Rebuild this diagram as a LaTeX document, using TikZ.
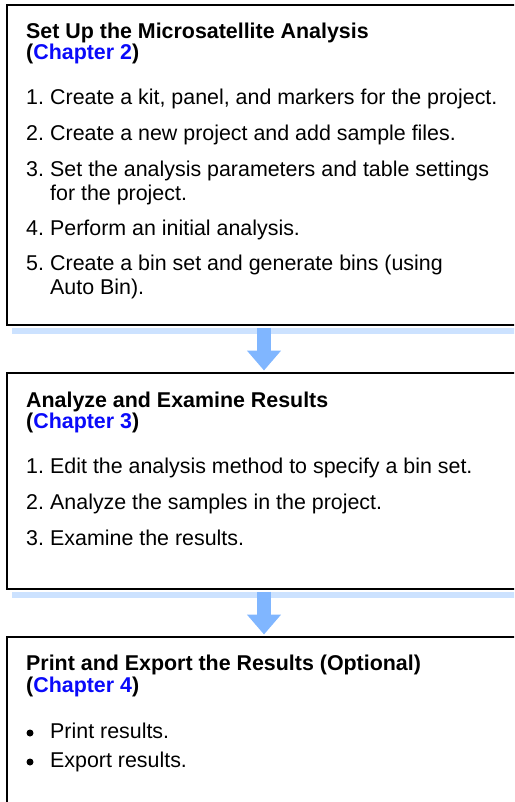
\documentclass[tikz,border=0pt]{standalone}
\usepackage{fontspec}
\setmainfont{Liberation Sans}
\usetikzlibrary{arrows.meta}

\definecolor{linkblue}{RGB}{10,10,250}
\definecolor{arrowblue}{RGB}{128,182,255}
\definecolor{bandblue}{RGB}{204,226,255}

\begin{document}
\begin{tikzpicture}[x=1pt,y=-1pt,
    stepbox/.style={draw,line width=2.5pt,rectangle,minimum width=514pt,inner sep=0pt},
    heading/.style={anchor=base west,inner sep=0pt,font=\fontsize{21.4}{24}\selectfont\bfseries},
    item/.style={anchor=base west,inner sep=0pt,font=\fontsize{21.4}{24}\selectfont},
    dot/.style={circle,fill=black,minimum size=7pt,inner sep=0pt},
    band/.style={fill=bandblue},
    flow/.style={draw=arrowblue,line width=14pt,shorten <=1.25pt,shorten >=1.25pt,
        -{Triangle[width=33pt,length=20pt,fill=arrowblue]}}]

\useasboundingbox (0,0) rectangle (514,802);
\clip (0,0) rectangle (514,802);

% Three stage boxes (right and bottom edges run off the page)
\node[stepbox,minimum height=320pt] (setup) at (264,165) {};
\node[stepbox,minimum height=216pt] (analyze) at (264,481) {};
\node[stepbox,minimum height=203pt] (export) at (264,738.5) {};

% Stage 1
\node[heading] (t1) at (26,39) {Set Up the Microsatellite Analysis};
\node[heading] (c1) at (26,60) {(\textcolor{linkblue}{Chapter 2})};
\node[item] (n11) at (26,105) {1.};
\node[item] (s11) at (50,105) {Create a kit, panel, and markers for the project.};
\node[item] (n12) at (26,141) {2.};
\node[item] (s12) at (50,141) {Create a new project and add sample files.};
\node[item] (n13) at (26,177) {3.};
\node[item] (s13) at (50,177) {Set the analysis parameters and table settings};
\node[item] (s13b) at (50,201) {for the project.};
\node[item] (n14) at (26,236) {4.};
\node[item] (s14) at (50,236) {Perform an initial analysis.};
\node[item] (n15) at (26,270) {5.};
\node[item] (s15) at (50,270) {Create a bin set and generate bins (using};
\node[item] (s15b) at (50,294) {Auto Bin).};

% Stage 2
\node[heading] (t2) at (26,407) {Analyze and Examine Results};
\node[heading] (c2) at (26,428) {(\textcolor{linkblue}{Chapter 3})};
\node[item] (n21) at (26,473) {1.};
\node[item] (s21) at (50,473) {Edit the analysis method to specify a bin set.};
\node[item] (n22) at (26,509) {2.};
\node[item] (s22) at (50,509) {Analyze the samples in the project.};
\node[item] (n23) at (26,545) {3.};
\node[item] (s23) at (50,545) {Examine the results.};

% Stage 3
\node[heading] (t3) at (26,670) {Print and Export the Results (Optional)};
\node[heading] (c3) at (26,692) {(\textcolor{linkblue}{Chapter 4})};
\node[dot] (b31) at (30,733) {};
\node[item] (s31) at (50,738) {Print results.};
\node[dot] (b32) at (30,762) {};
\node[item] (s32) at (50,767) {Export results.};

% Shadow bands under the first two boxes
\fill[band] ([xshift=6pt,yshift=-2pt]setup.south west) rectangle ([yshift=-7.5pt]setup.south east);
\fill[band] ([xshift=6pt,yshift=-2pt]analyze.south west) rectangle ([yshift=-7.5pt]analyze.south east);

% Flow arrows
\draw[flow] (setup.south) -- (analyze.north);
\draw[flow] (analyze.south) -- (export.north);

\end{tikzpicture}
\end{document}
